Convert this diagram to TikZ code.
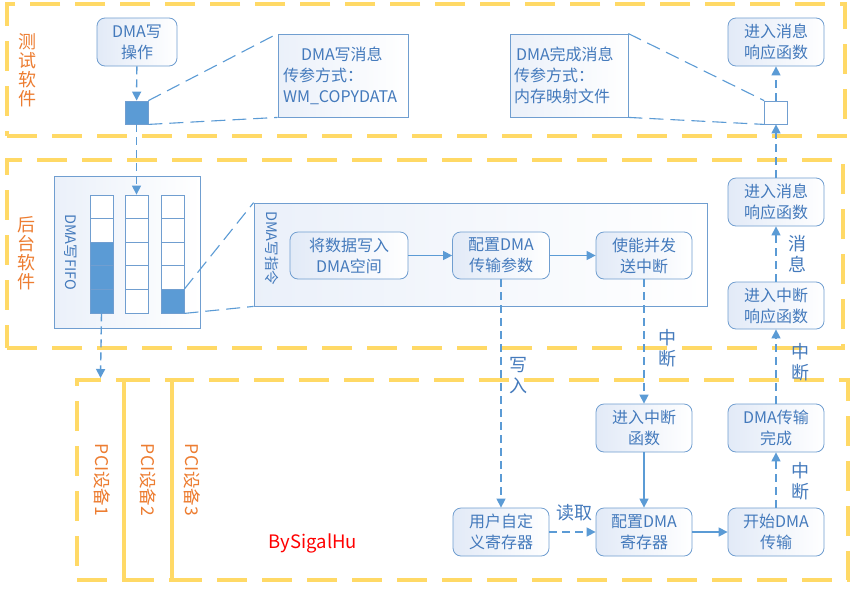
\documentclass[tikz,border=0pt]{standalone}
\usepackage{fontspec}
\setmainfont{Noto Sans CJK SC}
\usetikzlibrary{arrows.meta}
\definecolor{ybord}{RGB}{255,217,102}
\definecolor{lblue}{RGB}{91,155,213}
\definecolor{bbord}{RGB}{112,158,208}
\definecolor{btext}{RGB}{68,122,188}
\definecolor{bfill}{RGB}{226,234,247}
\definecolor{orng}{RGB}{237,125,49}
\definecolor{sigred}{RGB}{255,0,0}
\begin{document}
\begin{tikzpicture}[x=1pt,y=-1pt,
  ybox/.style={draw=ybord, line width=4pt, dash pattern=on 30pt off 15pt, inner sep=0pt},
  rbox/.style={draw=bbord, line width=0.8pt, rounded corners=8pt, left color=bfill, right color=white,
    minimum width=96pt, minimum height=48pt, inner sep=0pt, align=center, text=btext,
    font=\fontsize{16}{21}\selectfont},
  cont/.style={draw=bbord, line width=0.8pt, left color=bfill!70, right color=white, inner sep=0pt},
  cell/.style={draw=bbord, line width=0.8pt, fill=white, minimum width=23pt, minimum height=23.6pt, inner sep=0pt},
  fcell/.style={cell, fill=lblue},
  arr/.style={-{Triangle[length=9pt,width=9pt]}},
  dline/.style={draw=lblue, line width=1.4pt, dash pattern=on 8pt off 5pt},
  sline/.style={draw=lblue, line width=1.4pt},
  cline/.style={draw=lblue, line width=1.1pt, dash pattern=on 14pt off 7pt},
  olab/.style={text=orng, font=\fontsize{18}{19}\selectfont, align=center, inner sep=0pt},
  plab/.style={text=orng, font=\fontsize{17.5}{19}\selectfont, rotate=-90, inner sep=0pt},
  blab/.style={text=btext, font=\fontsize{18}{21}\selectfont, align=center, inner sep=0pt}
]
\useasboundingbox (0,0) rectangle (858,592);
\fill[white] (0,0) rectangle (858,592);

% yellow zones
\node[ybox, minimum width=838pt, minimum height=132pt] (test) at (426,70) {};
\node[ybox, minimum width=836pt, minimum height=188pt] (back) at (425,254) {};
\node[ybox, minimum width=47pt, minimum height=200pt] (pc1) at (100.5,480) {};
\node[ybox, minimum width=48pt, minimum height=200pt] (pc2) at (148,480) {};
\node[ybox, minimum width=676pt, minimum height=200pt] (pc3) at (510,480) {};

\node[olab] (ltest) at (27,70.5) {测\\试\\软\\件};
\node[olab] (lback) at (26,253) {后\\台\\软\\件};
\node[plab] (lpc1) at (102,480) {PCI设备1};
\node[plab] (lpc2) at (148,480) {PCI设备2};
\node[plab] (lpc3) at (192,480) {PCI设备3};
\node[text=sigred, font=\fontsize{18.5}{20}\selectfont, inner sep=0pt] (sig) at (313,543) {BySigalHu};

% top row
\node[rbox, minimum width=80pt] (op) at (137,42) {DMA写\\操作};
\node[draw=bbord, line width=0.8pt, fill=lblue, minimum size=23pt, inner sep=0pt] (sqA) at (136.5,112.5) {};
\node[cont, minimum width=130pt, minimum height=83pt, text width=120pt, align=left, text=btext,
  font=\fontsize{16}{21}\selectfont] (callA) at (343,75.5) {\hspace*{18pt}DMA写消息\\传参方式：\\WM\_COPYDATA};
\node[cont, minimum width=118pt, minimum height=83pt, text width=110pt, align=left, text=btext,
  font=\fontsize{16}{21}\selectfont] (callB) at (569,75.5) {\hspace*{2pt}DMA完成消息\\传参方式：\\内存映射文件};
\node[draw=bbord, line width=0.8pt, fill=white, minimum size=23pt, inner sep=0pt] (sqB) at (776,112.5) {};
\node[rbox] (msgtop) at (776,42) {进入消息\\响应函数};

% middle row
\node[cont, minimum width=146pt, minimum height=152pt] (fifo) at (127,252) {};
\node[text=btext, font=\fontsize{14.5}{16}\selectfont, rotate=-90, inner sep=0pt] (lfifo) at (71,252) {DMA写FIFO};
\foreach \c/\x in {1/101.5,2/136.5,3/172.5}{
  \foreach \r in {1,...,5}{
    \node[cell] (f-\c-\r) at (\x,{195+23.6*(\r-0.5)}) {};
  }
}
\foreach \r in {3,4,5}{ \node[fcell] at (f-1-\r) {}; }
\node[fcell] at (f-3-5) {};

\node[cont, minimum width=453pt, minimum height=103pt] (cmd) at (480.5,254.5) {};
\node[text=btext, font=\fontsize{14.5}{16}\selectfont, rotate=-90, anchor=west, inner sep=0pt] (lcmd) at (272,211) {DMA写指令};
\node[rbox, minimum width=118pt, minimum height=47pt] (wr) at (349,255.5) {将数据写入\\DMA空间};
\node[rbox, minimum width=97pt, minimum height=47pt] (cfg) at (501,255.5) {配置DMA\\传输参数};
\node[rbox, minimum height=47pt] (en) at (644,255.5) {使能并发\\送中断};
\node[rbox] (msgmid) at (776,202) {进入消息\\响应函数};
\node[rbox, minimum height=47pt] (intresp) at (776,305.5) {进入中断\\响应函数};

% bottom row
\node[rbox] (intf) at (644,428) {进入中断\\函数};
\node[rbox] (done) at (776,428) {DMA传输\\完成};
\node[rbox] (user) at (501,532) {用户自定\\义寄存器};
\node[rbox] (cfgreg) at (644,532) {配置DMA\\寄存器};
\node[rbox] (start) at (776,532) {开始DMA\\传输};

% connector labels
\node[blab] (lxr) at (518,376) {写\\入};
\node[blab] (lzd1) at (667,348) {中\\断};
\node[blab] (lxx) at (797,254) {消\\息};
\node[blab] (lzd2) at (800,362) {中\\断};
\node[blab] (lzd3) at (800,481) {中\\断};
\node[blab] (ldq) at (574,513) {读取};

% connectors
\draw[dline,arr] (op) -- (sqA);
\draw[cline] (sqA.north east) -- (callA.north west);
\draw[cline] (sqA.south east) -- (callA.south west);
\draw[cline] (callB.north east) -- (sqB.north west);
\draw[cline] (callB.south east) -- (sqB.south west);
\draw[dline,arr] (sqB) -- (msgtop);
\draw[dline,arr] (msgmid) -- (sqB);
\draw[dline,arr] (sqA) -- (f-2-1.north);
\draw[dline,arr] (f-1-5.south) -- (pc1.north);
\draw[cline] (f-3-5.north east) -- (cmd.north west);
\draw[cline] (f-3-5.south east) -- (cmd.south west);
\draw[sline,arr] (wr) -- (cfg);
\draw[sline,arr] (cfg) -- (en);
\draw[dline,arr] (cfg) -- (user);
\draw[dline,arr] (en) -- (intf);
\draw[sline,arr] (intf) -- (cfgreg);
\draw[dline,arr] (user) -- (cfgreg);
\draw[sline,arr] (cfgreg) -- (start);
\draw[dline,arr] (start) -- (done);
\draw[dline,arr] (done) -- (intresp);
\draw[dline,arr] (intresp) -- (msgmid);
\end{tikzpicture}
\end{document}
